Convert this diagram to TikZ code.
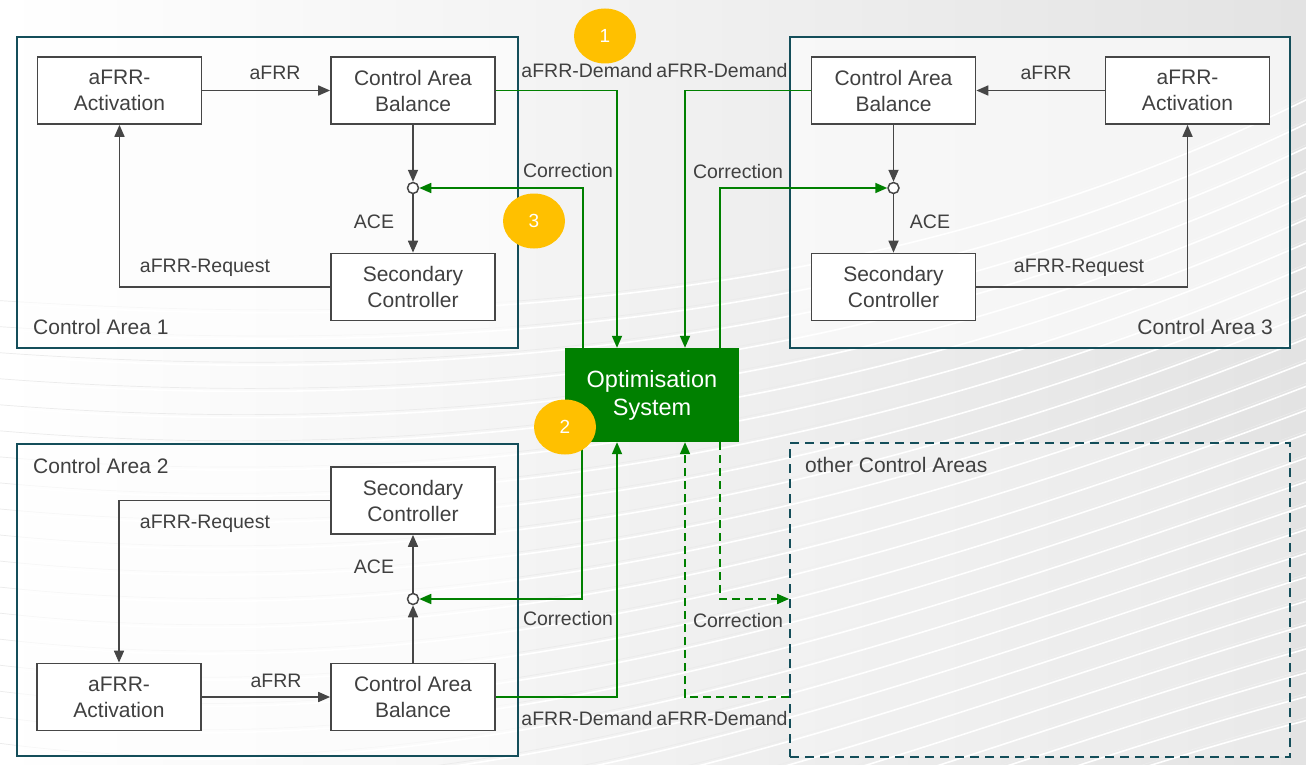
\documentclass[tikz,border=0pt]{standalone}
\usepackage{fontspec}
\setmainfont{Liberation Sans}
\usetikzlibrary{arrows.meta,shapes.geometric}
\definecolor{teal1}{RGB}{20,78,90}
\definecolor{boxgray}{RGB}{70,70,70}
\definecolor{txt}{RGB}{64,64,64}
\definecolor{optgreen}{RGB}{0,128,0}
\definecolor{ylw}{RGB}{255,192,0}
\begin{document}
\begin{tikzpicture}[x=1pt,y=-1pt,
  blk/.style={draw=boxgray, line width=1.7pt, fill=white, minimum width=164pt, minimum height=67pt, align=center, text=txt, font=\fontsize{21}{26}\selectfont, inner sep=0pt},
  area/.style={draw=teal1, line width=1.7pt, fill=white, fill opacity=0.6, inner sep=0pt},
  lbl/.style={text=txt, font=\fontsize{19.5}{22}\selectfont, inner sep=0pt, text height=14pt, text depth=0pt},
  albl/.style={text=txt, font=\fontsize{21}{24}\selectfont, inner sep=0pt, text height=15pt, text depth=0pt},
  sig/.style={draw=boxgray, line width=1.7pt, -{Triangle[length=12pt,width=10pt]}},
  gsig/.style={draw=optgreen, line width=1.7pt, -{Triangle[length=12pt,width=10pt]}},
  sumpt/.style={circle, draw=boxgray, fill=white, line width=1.5pt, minimum size=11pt, inner sep=0pt},
  num/.style={ellipse, fill=ylw, minimum width=62pt, minimum height=55pt, inner sep=0pt, text=white, font=\fontsize{19}{20}\selectfont},
  dsh/.style={dash pattern=on 8pt off 5pt}
]
% background
\useasboundingbox (0,0) rectangle (1306,765);
\shade[left color=white, right color=black!11] (0,0) rectangle (1306,765);
\begin{scope}
\clip (0,0) rectangle (1306,765);
\foreach \i in {0,...,26}{
  \draw[black!8, line width=0.7pt] (-10,{300+\i*26}) .. controls (450,{330+\i*28}) and (900,{300+\i*20}) .. (1320,{90+\i*24});
  \draw[white, line width=1.6pt] (-10,{303+\i*26}) .. controls (450,{333+\i*28}) and (900,{303+\i*20}) .. (1320,{93+\i*24});
}
\end{scope}

% areas
\node[area, minimum width=501pt, minimum height=311pt] (ca1) at (267.5,192.5) {};
\node[area, minimum width=500pt, minimum height=311pt] (ca3) at (1040,192.5) {};
\node[area, minimum width=501pt, minimum height=312pt] (ca2) at (267.5,600) {};
\node[draw=teal1, line width=1.7pt, dash pattern=on 9pt off 6pt, fill=white, fill opacity=0.25, minimum width=500pt, minimum height=314pt, inner sep=0pt] (oth) at (1040,600) {};

\node[albl, anchor=west] (t1) at (33,327) {Control Area 1};
\node[albl, anchor=east] (t3) at (1273,327) {Control Area 3};
\node[albl, anchor=west] (t2) at (33,466) {Control Area 2};
\node[albl, anchor=west] (t4) at (805,465) {other Control Areas};

% Control Area 1
\node[blk] (act1) at (119.5,90.5) {aFRR-\\Activation};
\node[blk] (cab1) at (413,90.5) {Control Area\\Balance};
\node[blk] (sc1) at (413,287) {Secondary\\Controller};
\node[sumpt] (sum1) at (413,188) {};
\draw[sig] (act1.east) -- (cab1.west);
\draw[sig] (cab1.south) -- (sum1.north);
\draw[sig] (sum1.south) -- (sc1.north);
\draw[sig] (sc1.west) -| (act1.south);
\node[lbl] (l1a) at (275,73) {aFRR};
\node[lbl] (l1b) at (374,221) {ACE};
\node[lbl] (l1c) at (205,265) {aFRR-Request};

% Control Area 3
\node[blk] (cab3) at (893.5,90.5) {Control Area\\Balance};
\node[blk] (act3) at (1187.5,90.5) {aFRR-\\Activation};
\node[blk] (sc3) at (893.5,287) {Secondary\\Controller};
\node[sumpt] (sum3) at (893.5,188) {};
\draw[sig] (act3.west) -- (cab3.east);
\draw[sig] (cab3.south) -- (sum3.north);
\draw[sig] (sum3.south) -- (sc3.north);
\draw[sig] (sc3.east) -| (act3.south);
\node[lbl] (l3a) at (1046,73) {aFRR};
\node[lbl] (l3b) at (930,221) {ACE};
\node[lbl] (l3c) at (1079,265) {aFRR-Request};

% Control Area 2
\node[blk] (sc2) at (413,500.5) {Secondary\\Controller};
\node[blk] (act2) at (119,697) {aFRR-\\Activation};
\node[blk] (cab2) at (413,697) {Control Area\\Balance};
\node[sumpt] (sum2) at (413,599) {};
\draw[sig] (act2.east) -- (cab2.west);
\draw[sig] (cab2.north) -- (sum2.south);
\draw[sig] (sum2.north) -- (sc2.south);
\draw[sig] (sc2.west) -| (act2.north);
\node[lbl] (l2a) at (276,680) {aFRR};
\node[lbl] (l2b) at (374,566) {ACE};
\node[lbl] (l2c) at (205,521) {aFRR-Request};

% Optimisation system
\node[fill=optgreen, minimum width=174pt, minimum height=94pt, inner sep=0pt, align=center, text=white, font=\fontsize{23.5}{28}\selectfont] (opt) at (652,395) {Optimisation\\System};

% green connectors top
\draw[gsig] (cab1.east) -| ([xshift=-35pt]opt.north);
\draw[gsig] ([xshift=-69pt]opt.north) |- (sum1.east);
\draw[gsig] (cab3.west) -| ([xshift=33pt]opt.north);
\draw[gsig] ([xshift=68pt]opt.north) |- (sum3.west);
% green connectors bottom
\draw[gsig] ([xshift=-70pt]opt.south) |- (sum2.east);
\draw[gsig] (cab2.east) -| ([xshift=-35pt]opt.south);
\coordinate (othD) at (oth.west |- cab2.east);
\coordinate (othC) at (oth.west |- sum2.east);
\draw[gsig, dsh] (othD) -| ([xshift=33pt]opt.south);
\draw[gsig, dsh] ([xshift=68pt]opt.south) |- (othC);

\node[lbl] (g1) at (587,71) {aFRR-Demand};
\node[lbl] (g2) at (722,71) {aFRR-Demand};
\node[lbl] (g3) at (568,170) {Correction};
\node[lbl] (g4) at (738,171) {Correction};
\node[lbl] (g5) at (568,618) {Correction};
\node[lbl] (g6) at (738,620) {Correction};
\node[lbl] (g7) at (587,718) {aFRR-Demand};
\node[lbl] (g8) at (722,718) {aFRR-Demand};

% numbered markers
\node[num] (n1) at (605,36) {1};
\node[num] (n3) at (534,221) {3};
\node[num] (n2) at (565,427) {2};
\end{tikzpicture}
\end{document}
